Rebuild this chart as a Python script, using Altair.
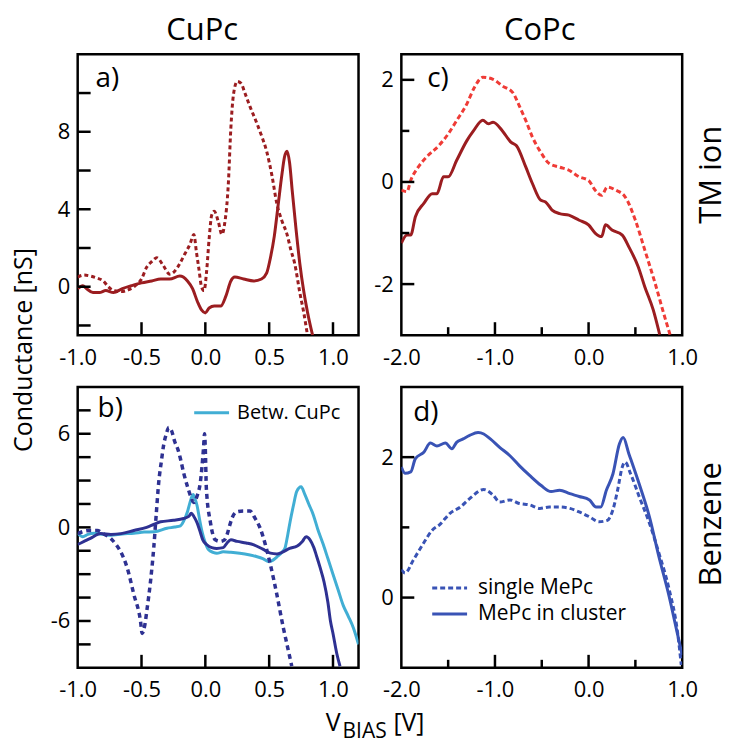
import altair as alt
import pandas as pd

FONT = "Open Sans"
W, H = 282, 282

DARKRED = "#9b1d20"
LIGHTRED = "#ef3b36"
NAVY = "#2e3192"
CYAN = "#41aed4"
BLUE = "#3953b5"

# ---------------- Panel a (CuPc, TM ion) ----------------
a_solid_v = [-1.0, -0.96, -0.93, -0.88, -0.83, -0.78, -0.72, -0.65, -0.58, -0.5, -0.42, -0.35, -0.28,
             -0.2, -0.14, -0.1, -0.06, -0.03, 0.0, 0.03, 0.07, 0.12, 0.16, 0.2, 0.23, 0.3, 0.38, 0.44,
             0.48, 0.51, 0.54, 0.57, 0.6, 0.62, 0.64, 0.66, 0.68, 0.71, 0.74, 0.77, 0.8, 0.84]
a_solid_g = [-0.1, 0.05, -0.1, -0.3, -0.3, -0.2, -0.3, -0.1, 0.05, 0.2, 0.3, 0.4, 0.4,
             0.55, 0.3, -0.1, -0.8, -1.2, -1.35, -1.1, -1.0, -1.0, -0.5, 0.3, 0.5, 0.4, 0.3, 0.4,
             0.7, 1.5, 2.6, 4.2, 5.8, 6.7, 7.0, 6.4, 5.0, 3.0, 1.2, -0.2, -1.3, -2.5]
a_dash_v = [-1.0, -0.95, -0.9, -0.85, -0.8, -0.76, -0.72, -0.66, -0.6, -0.55, -0.5, -0.46, -0.42, -0.38,
            -0.33, -0.28, -0.24, -0.2, -0.16, -0.12, -0.09, -0.07, -0.05, -0.03, -0.01, 0.01, 0.03,
            0.05, 0.07, 0.1, 0.13, 0.15, 0.18, 0.2, 0.22, 0.25, 0.28, 0.31, 0.35, 0.4, 0.44, 0.48,
            0.52, 0.56, 0.6, 0.64, 0.67, 0.7, 0.74, 0.77, 0.8]
a_dash_g = [0.5, 0.6, 0.55, 0.45, 0.3, 0.0, -0.2, -0.25, -0.15, 0.05, 0.4, 1.0, 1.3, 1.5,
            1.1, 0.65, 0.8, 1.2, 1.7, 2.2, 2.7, 1.8, 0.9, 0.0, -0.2, 0.8, 2.5,
            3.7, 3.9, 3.4, 2.7, 3.2, 5.3, 8.2, 9.9, 10.6, 10.5, 10.0, 9.3, 8.5, 7.8, 7.0,
            5.8, 4.3, 3.4, 2.7, 1.9, 1.2, -0.3, -1.3, -2.5]

# ---------------- Panel b (CuPc, Benzene) ----------------
b_navy_v = [-1.0, -0.95, -0.9, -0.82, -0.74, -0.66, -0.56, -0.46, -0.4, -0.35, -0.25, -0.17, -0.13,
            -0.11, -0.09, -0.065, -0.04, -0.02, 0.01, 0.05, 0.09, 0.14, 0.17, 0.2, 0.25, 0.32, 0.38,
            0.45, 0.51, 0.56, 0.6, 0.66, 0.72, 0.76, 0.79, 0.82, 0.85, 0.87, 0.9, 0.93, 0.96, 0.98,
            1.0, 1.03, 1.055]
b_navy_g = [-1.1, -0.9, -0.7, -0.4, -0.45, -0.4, -0.2, 0.0, 0.2, 0.36, 0.45, 0.57, 0.7,
            0.9, 0.7, 0.3, -0.3, -0.8, -1.1, -1.3, -1.35, -1.3, -1.0, -0.8, -0.9, -1.0, -1.12,
            -1.4, -1.65, -1.7, -1.6, -1.35, -1.2, -0.9, -0.6, -0.8, -1.3, -1.8, -2.6, -3.5, -4.8, -6.0,
            -6.8, -8.1, -8.9]
b_cyan_v = [-1.0, -0.96, -0.92, -0.87, -0.8, -0.74, -0.65, -0.56, -0.48, -0.4, -0.3, -0.24, -0.195,
            -0.17, -0.14, -0.12, -0.096, -0.08, -0.065, -0.045, -0.026, 0.0, 0.026, 0.06, 0.09, 0.14,
            0.2, 0.27, 0.34, 0.4, 0.45, 0.5, 0.53, 0.56, 0.6, 0.625, 0.645, 0.664, 0.69, 0.716, 0.75,
            0.78, 0.81, 0.846, 0.88, 0.924, 0.96, 1.0, 1.04, 1.08, 1.12, 1.16, 1.2]
b_cyan_g = [-0.38, -0.6, -0.45, -0.38, -0.45, -0.5, -0.42, -0.38, -0.3, -0.28, -0.06, 0.02, 0.1,
            0.4, 1.0, 1.6, 2.1, 1.8, 1.4, 0.5, -0.27, -1.0, -1.44, -1.6, -1.66, -1.57,
            -1.6, -1.66, -1.75, -1.87, -2.0, -2.2, -2.1, -1.9, -1.6, -1.3, -0.5, 0.36, 1.4, 2.3, 2.6,
            2.1, 1.5, 0.8, -0.1, -1.1, -2.0, -3.0, -4.0, -5.0, -5.7, -6.45, -7.5]
b_dash_v = [-1.0, -0.95, -0.9, -0.846, -0.8, -0.742, -0.7, -0.664, -0.612, -0.56, -0.508, -0.495,
            -0.475, -0.456, -0.43, -0.404, -0.385, -0.365, -0.345, -0.326, -0.305, -0.286, -0.265,
            -0.24, -0.215, -0.195, -0.17, -0.143, -0.115, -0.091, -0.065, -0.039, -0.015, -0.006,
            0.0, 0.008, 0.039, 0.078, 0.117, 0.15, 0.17, 0.19, 0.208, 0.247, 0.3, 0.35, 0.39, 0.43,
            0.47, 0.51, 0.56, 0.61, 0.645, 0.677]
b_dash_g = [-0.4, -0.25, -0.2, -0.2, -0.4, -0.7, -1.1, -1.55, -2.6, -4.3, -6.0, -6.8,
            -6.3, -5.2, -3.5, -1.3, 0.8, 2.9, 4.2, 5.3, 6.0, 6.4, 6.2,
            5.5, 5.0, 4.4, 3.5, 2.7, 2.0, 1.6, 2.0, 2.9, 5.0, 6.0,
            5.0, 2.5, 0.36, -0.8, -0.9, -0.8, -0.47, 0.1, 0.57, 1.0, 1.05, 1.05, 0.57, -0.06,
            -1.1, -2.4, -4.3, -6.4, -7.7, -8.9]

# ---------------- Panel c (CoPc, TM ion) ----------------
c_solid_v = [-2.0, -1.94, -1.9, -1.85, -1.76, -1.67, -1.62, -1.55, -1.5, -1.41, -1.3, -1.23, -1.13,
             -1.07, -1.02, -0.92, -0.83, -0.77, -0.67, -0.6, -0.51, -0.46, -0.39, -0.31, -0.21, -0.1,
             0.0, 0.07, 0.14, 0.18, 0.25, 0.36, 0.43, 0.53, 0.6, 0.69, 0.76]
c_solid_g = [-1.2, -1.04, -1.04, -0.68, -0.42, -0.23, -0.23, 0.1, 0.1, 0.42, 0.81, 1.0, 1.21,
             1.14, 1.17, 1.0, 0.78, 0.71, 0.29, -0.03, -0.36, -0.39, -0.55, -0.62, -0.65, -0.75,
             -0.84, -1.0, -1.07, -0.84, -0.94, -1.04, -1.27, -1.66, -2.05, -2.5, -2.99]
c_dash_v = [-2.0, -1.94, -1.9, -1.82, -1.73, -1.6, -1.5, -1.41, -1.3, -1.22, -1.13, -1.02, -0.92,
            -0.81, -0.74, -0.67, -0.6, -0.51, -0.42, -0.31, -0.21, -0.1, 0.0, 0.07, 0.14, 0.2, 0.29,
            0.39, 0.5, 0.6, 0.71, 0.8, 0.87]
c_dash_g = [-0.16, -0.19, 0.03, 0.29, 0.49, 0.71, 0.94, 1.2, 1.53, 1.85, 2.05, 2.01, 1.88,
            1.75, 1.49, 1.2, 0.88, 0.58, 0.36, 0.29, 0.23, 0.1, 0.03, -0.16, -0.26, -0.1, -0.16,
            -0.29, -0.75, -1.33, -1.98, -2.56, -2.99]

# ---------------- Panel d (CoPc, Benzene) ----------------
d_solid_v = [-2.0, -1.96, -1.9, -1.85, -1.76, -1.69, -1.62, -1.53, -1.46, -1.41, -1.34, -1.27, -1.18,
             -1.12, -1.05, -0.95, -0.84, -0.74, -0.63, -0.51, -0.4, -0.31, -0.2, -0.1, 0.01, 0.08,
             0.13, 0.19, 0.26, 0.33, 0.37, 0.43, 0.54, 0.65, 0.75, 0.86, 0.93, 1.0]
d_solid_g = [1.86, 1.77, 1.79, 1.98, 2.07, 2.2, 2.16, 2.2, 2.12, 2.21, 2.26, 2.31, 2.35,
             2.33, 2.26, 2.14, 2.02, 1.88, 1.74, 1.6, 1.51, 1.53, 1.48, 1.44, 1.39, 1.29,
             1.29, 1.53, 1.76, 2.19, 2.28, 2.05, 1.62, 1.15, 0.59, 0.02, -0.4, -0.82]
d_dash_v = [-2.0, -1.96, -1.87, -1.76, -1.67, -1.59, -1.48, -1.37, -1.27, -1.12, -1.02, -0.95, -0.84,
            -0.74, -0.63, -0.52, -0.42, -0.31, -0.2, -0.1, 0.01, 0.11, 0.2, 0.26, 0.31, 0.36, 0.39,
            0.45, 0.54, 0.65, 0.75, 0.86, 0.95, 0.99]
d_dash_g = [0.4, 0.35, 0.54, 0.78, 0.96, 1.04, 1.2, 1.29, 1.41, 1.54, 1.46, 1.36, 1.39,
            1.34, 1.32, 1.27, 1.29, 1.29, 1.27, 1.22, 1.15, 1.08, 1.1, 1.25, 1.53, 1.86, 1.93,
            1.76, 1.44, 1.06, 0.64, 0.12, -0.49, -0.96]

# ---------------- axis ticks / labels ----------------
a_xlabels = [-1.0, -0.5, 0.0, 0.5, 1.0]
a_xticks = [-0.5, 0.0, 0.5, 1.0]
a_ylabels = [0, 4, 8]
a_yticks = [-2, 0, 2, 4, 6, 8, 10]
b_ylabels = [-6, 0, 6]
b_yticks = [-7.5, -6, -4.5, -3, -1.5, 0, 1.5, 3, 4.5, 6, 7.5]
c_xlabels = [-2.0, -1.0, 0.0, 1.0]
c_xmajor = [-1.0, 0.0]
c_xminor = [-1.5, -0.5, 0.5]
c_ylabels = [-2, 0, 2]
c_yminor = [-1, 1]
d_ylabels = [0, 2]
d_yminor = [1]

XFMT = "datum.value < 0 ? '-' + format(-datum.value, '.1f') : format(datum.value, '.1f')"
YFMT = "datum.value < 0 ? '-' + format(-datum.value, 'd') : format(datum.value, 'd')"


def xaxis(vals):
    return alt.Axis(values=vals, labelExpr=XFMT, ticks=False, tickSize=0, domain=False, grid=False,
                    title=None, labelFont=FONT, labelFontSize=22, labelColor="black",
                    labelPadding=12, labelFlush=False, labelOverlap=False)


def yaxis(vals):
    return alt.Axis(values=vals, labelExpr=YFMT, ticks=False, tickSize=0, domain=False, grid=False,
                    title=None, labelFont=FONT, labelFontSize=22, labelColor="black",
                    labelPadding=8, labelOverlap=False)


def panel(xdom, ydom, xlab, ylab, curves, xt_major, xt_minor, yt_major, yt_minor, texts, rules):
    xs = alt.Scale(domain=xdom, nice=False, zero=False)
    ys = alt.Scale(domain=ydom, nice=False, zero=False)
    X = alt.X("v:Q", scale=xs, axis=xaxis(xlab))
    Y = alt.Y("g:Q", scale=ys, axis=yaxis(ylab))
    layers = []
    for v, g, color, dash, sw in curves:
        kw = dict(color=color, strokeWidth=sw, clip=True, interpolate="monotone")
        if dash:
            kw["strokeDash"] = dash
        d = pd.DataFrame({"v": v, "g": g, "i": list(range(len(v)))})
        layers.append(alt.Chart(d).mark_line(**kw).encode(x=X, y=Y, order="i:Q"))
    # inward ticks
    for vals, ln in ((xt_major, 13), (xt_minor, 8)):
        if vals:
            layers.append(alt.Chart(pd.DataFrame({"v": vals})).mark_rule(color="black", strokeWidth=2.5)
                          .encode(x=X, y=alt.value(H), y2=alt.value(H - ln)))
    for vals, ln in ((yt_major, 13), (yt_minor, 8)):
        if vals:
            layers.append(alt.Chart(pd.DataFrame({"g": vals})).mark_rule(color="black", strokeWidth=2.5)
                          .encode(y=Y, x=alt.value(0), x2=alt.value(ln)))
    for x0, x1, y0, color, dash in rules:
        kw = dict(color=color, strokeWidth=3)
        if dash:
            kw["strokeDash"] = dash
        layers.append(alt.Chart(pd.DataFrame({"k": [0]})).mark_rule(**kw)
                      .encode(x=alt.value(x0), x2=alt.value(x1), y=alt.value(y0)))
    for txt, x0, y0, size, align, baseline, angle in texts:
        kw = dict(text=txt, font=FONT, fontSize=size, align=align, baseline=baseline, color="black")
        if angle:
            kw["angle"] = angle
        layers.append(alt.Chart(pd.DataFrame({"k": [0]})).mark_text(**kw)
                      .encode(x=alt.value(x0), y=alt.value(y0)))
    return alt.layer(*layers).properties(width=W, height=H)


pa = panel([-1.0, 1.2], [-2.5, 12], a_xlabels, a_ylabels,
           [(a_solid_v, a_solid_g, DARKRED, None, 3),
            (a_dash_v, a_dash_g, DARKRED, [4, 3], 3)],
           a_xticks, [], a_yticks, [],
           [("CuPc", 125, -23, 31, "center", "middle", 0),
            ("a)", 18, 25, 28, "left", "middle", 0),
            ("Conductance [nS]", -54, 297, 25, "center", "middle", 270)],
           [])

pc = panel([-2.0, 1.0], [-3, 2.5], c_xlabels, c_ylabels,
           [(c_solid_v, c_solid_g, DARKRED, None, 3),
            (c_dash_v, c_dash_g, LIGHTRED, [5, 3], 3)],
           c_xmajor, c_xminor, c_ylabels, c_yminor,
           [("CoPc", 139, -23, 31, "center", "middle", 0),
            ("c)", 26, 25, 28, "left", "middle", 0),
            ("TM ion", 312, 121, 31, "center", "middle", 270)],
           [])

pb = panel([-1.0, 1.2], [-9, 9], a_xlabels, b_ylabels,
           [(b_cyan_v, b_cyan_g, CYAN, None, 3),
            (b_navy_v, b_navy_g, NAVY, None, 3),
            (b_dash_v, b_dash_g, NAVY, [5, 4], 3.5)],
           a_xticks, [], b_yticks, [],
           [("b)", 20, 22, 28, "left", "middle", 0),
            ("Betw. CuPc", 160, 26, 20, "left", "middle", 0),
            ("V", 249, 345, 25, "left", "alphabetic", 0),
            ("BIAS", 266, 353, 21, "left", "alphabetic", 0),
            ("[V]", 317, 345, 25, "left", "alphabetic", 0)],
           [(117, 152, 26, CYAN, None)])

pd_ = panel([-2.0, 1.0], [-1, 3], c_xlabels, d_ylabels,
            [(d_solid_v, d_solid_g, BLUE, None, 3),
             (d_dash_v, d_dash_g, BLUE, [5, 3], 3)],
            c_xmajor, c_xminor, d_ylabels, d_yminor,
            [("d)", 12, 26, 28, "left", "middle", 0),
             ("Benzene", 312, 138, 31, "center", "middle", 270),
             ("single MePc", 77, 202, 21, "left", "middle", 0),
             ("MePc in cluster", 77, 228, 21, "left", "middle", 0)],
            [(31, 66, 202, BLUE, [5, 3]), (31, 66, 228, BLUE, None)])

chart = alt.concat(pa, pc, pb, pd_, columns=2, spacing={"row": 52, "column": 43}, bounds="flush") \
    .configure_view(stroke="black", strokeWidth=2.5) \
    .properties(padding={"left": 10, "top": 12, "right": 0, "bottom": 0}, background="white")

chart.save("out.html", embed_options={"renderer": "svg", "actions": False})
